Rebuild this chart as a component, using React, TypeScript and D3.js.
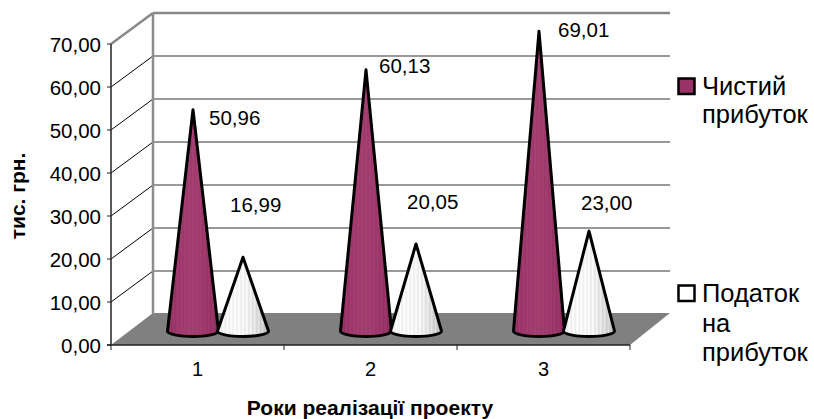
import React from "react";
import * as d3 from "d3";

const categories = ["1", "2", "3"];
const profit = [50.96, 60.13, 69.01];
const tax = [16.99, 20.05, 23.0];
const profitLabels = ["50,96", "60,13", "69,01"];
const taxLabels = ["16,99", "20,05", "23,00"];
const yTicks = [0, 10, 20, 30, 40, 50, 60, 70];
const FONT = "'Liberation Sans', Arial, sans-serif";

// where the data labels sit, relative to the centre of the front cone of each group
const profitLabelDx = [16, 13, 19];
const profitLabelY = [125, 73, 37];
const taxLabelDx = [37, 41, 42];
const taxLabelY = [212, 209, 210];

const W = 814, H = 419;
const x0 = 111, x1 = 630, dx = 42, dy = -31;
const yFront = d3.scaleLinear().domain([0, 70]).range([345, 44]);
const yCone = d3.scaleLinear().domain([0, 70]).range([331, 27]);
const xBand = d3.scaleBand<string>().domain(categories).range([x0, x1]);
const fmt = (v: number) => v.toFixed(2).replace(".", ",");

const stripeStops = (a: string, b: string, c: string) => {
  const out: { o: number; col: string }[] = [];
  const n = 26;
  for (let i = 0; i <= n; i++) {
    const t = i / n;
    const base = d3.interpolateRgbBasis([a, b, c])(t);
    const col = i % 2 === 0 ? base : d3.rgb(base).brighter(0.3).formatRgb();
    out.push({ o: t, col });
  }
  return out;
};

function Cone({ cx, v, fill }: { cx: number; v: number; fill: string }) {
  const base = yCone(0), tip = yCone(v), rx = 25.5, ry = 5.5;
  const d = `M${cx - rx},${base} L${cx},${tip} L${cx + rx},${base} A${rx},${ry} 0 0 1 ${cx - rx},${base} Z`;
  return <path d={d} fill={fill} stroke="#000" strokeWidth={3} strokeLinejoin="round" />;
}

export default function App() {
  return (
    <svg width={W} height={H} style={{ position: "absolute", left: 0, top: 0, background: "#fff" }} fontFamily={FONT}>
      <defs>
        <linearGradient id="pur" x1="0" x2="1" y1="0" y2="0">
          {stripeStops("#8f2f60", "#a0406f", "#8a2c5c").map((s, i) => <stop key={i} offset={s.o} stopColor={s.col} />)}
        </linearGradient>
        <linearGradient id="wht" x1="0" x2="1" y1="0" y2="0">
          {stripeStops("#e8e8e8", "#f6f6f6", "#b8b8b8").map((s, i) => <stop key={i} offset={s.o} stopColor={s.col} />)}
        </linearGradient>
      </defs>

      {/* floor */}
      <polygon points={[[x0, 345], [x1, 345], [x1 + dx - 2, 345 + dy - 1], [x0 + dx, 345 + dy - 1]].join(" ")} fill="#808080" />
      {/* back wall grid */}
      {yTicks.filter(t => t > 0).map(t => (
        <g key={t}>
          <line x1={x0} y1={yFront(t)} x2={x0 + dx} y2={yFront(t) + dy} stroke={t === 70 ? "#888" : "#000"} strokeWidth={t === 70 ? 2.5 : 1} />
          <line x1={x0 + dx} y1={yFront(t) + dy} x2={x1 + dx - 2} y2={yFront(t) + dy} stroke={t === 70 ? "#888" : "#777"} strokeWidth={t === 70 ? 2.5 : 1.4} />
        </g>
      ))}
      <line x1={x0 + dx} y1={13} x2={x0 + dx} y2={314} stroke="#8c8c8c" strokeWidth={2.5} />

      {/* axes */}
      <line x1={x0} y1={44} x2={x0} y2={345} stroke="#222" strokeWidth={1.5} />
      <line x1={x0 - 4} y1={345} x2={x1} y2={345} stroke="#222" strokeWidth={1.5} />
      {yTicks.map(t => (
        <g key={t}>
          <line x1={x0 - 4} x2={x0} y1={yFront(t)} y2={yFront(t)} stroke="#222" />
          <text x={101} y={yFront(t) + 7.5} textAnchor="end" fontSize={20.5} fill="#000">{fmt(t)}</text>
        </g>
      ))}
      {[0, 1, 2, 3].map(i => {
        const x = x0 + i * xBand.step();
        return <line key={i} x1={x} x2={x} y1={345} y2={350} stroke="#222" />;
      })}
      {categories.map(c => (
        <text key={c} x={xBand(c)! + xBand.bandwidth() / 2} y={376} textAnchor="middle" fontSize={20} fill="#000">{c}</text>
      ))}

      {/* cones */}
      {categories.map((c, i) => {
        const cx = xBand(c)! + 82;
        return (
          <g key={c}>
            <Cone cx={cx} v={profit[i]} fill="url(#pur)" />
            <Cone cx={cx + 50} v={tax[i]} fill="url(#wht)" />
            <text x={cx + profitLabelDx[i]} y={profitLabelY[i]} fontSize={20.5} fill="#000">{profitLabels[i]}</text>
            <text x={cx + taxLabelDx[i]} y={taxLabelY[i]} fontSize={20.5} fill="#000">{taxLabels[i]}</text>
          </g>
        );
      })}

      {/* titles */}
      <text transform="translate(25,196) rotate(-90)" textAnchor="middle" fontSize={21} fontWeight="bold" fill="#000">тис. грн.</text>
      <text x={370} y={415} textAnchor="middle" fontSize={21} fontWeight="bold" fill="#000">Роки реалізації проекту</text>

      {/* legend */}
      <rect x={678.5} y={78.5} width={16} height={15.5} fill="#993366" stroke="#000" strokeWidth={2.5} />
      <text x={702} y={95} fontSize={25.5} fill="#000">Чистий</text>
      <text x={702} y={123} fontSize={25.5} fill="#000">прибуток</text>
      <rect x={678.5} y={285.5} width={16} height={15.5} fill="#fff" stroke="#000" strokeWidth={2.5} />
      <text x={702} y={302} fontSize={25.5} fill="#000">Податок</text>
      <text x={702} y={332} fontSize={25.5} fill="#000">на</text>
      <text x={702} y={361} fontSize={25.5} fill="#000">прибуток</text>
    </svg>
  );
}
